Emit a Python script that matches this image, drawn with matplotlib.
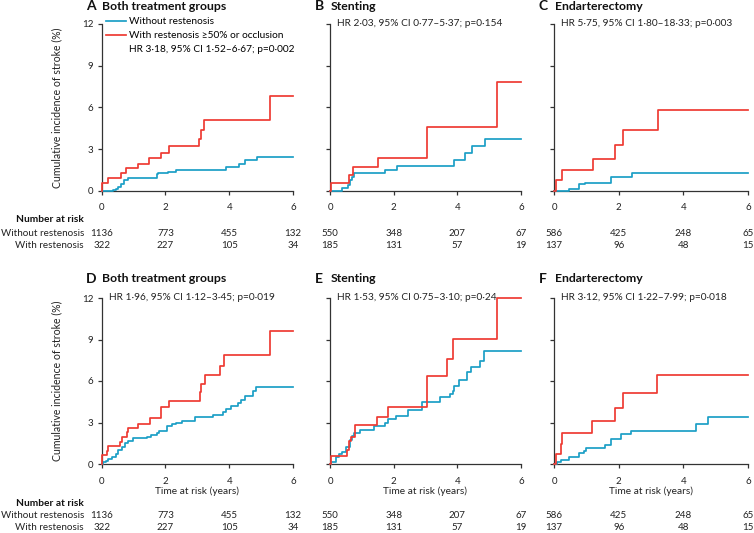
import matplotlib
matplotlib.use('Agg')
import matplotlib.pyplot as plt
from matplotlib.lines import Line2D
from matplotlib.transforms import blended_transform_factory

plt.rcParams['font.family'] = ['Lato', 'DejaVu Sans']
plt.rcParams['font.size'] = 7

# ---------------- data ----------------
x_ticks = [0, 2, 4, 6]
y_ticks = [0, 3, 6, 9, 12]

A_blue_t = [0, 0.36, 0.44, 0.52, 0.6, 0.71, 0.83, 1.72, 1.77, 2.08, 2.34, 3.9, 4.32, 4.48, 4.88, 6]
A_blue_y = [0, 0.1, 0.17, 0.29, 0.53, 0.82, 0.96, 1.2, 1.3, 1.37, 1.49, 1.73, 1.97, 2.25, 2.45, 2.45]
A_red_t = [0, 0.02, 0.21, 0.59, 0.76, 1.125, 1.49, 1.85, 2.10, 3.05, 3.10, 3.21, 5.28, 6]
A_red_y = [0, 0.58, 0.96, 1.3, 1.68, 1.97, 2.35, 2.73, 3.21, 3.77, 4.41, 5.08, 6.83, 6.83]

B_blue_t = [0, 0.37, 0.58, 0.63, 0.68, 0.76, 1.73, 2.09, 3.9, 4.24, 4.45, 4.87, 6]
B_blue_y = [0, 0.2, 0.4, 0.77, 1.0, 1.3, 1.49, 1.8, 2.2, 2.73, 3.21, 3.77, 3.77]
B_red_t = [0, 0.03, 0.6, 0.73, 1.5, 3.06, 5.25, 6]
B_red_y = [0, 0.6, 1.13, 1.73, 2.37, 4.6, 7.8, 7.8]

C_blue_t = [0, 0.46, 0.77, 0.95, 1.77, 2.4, 6]
C_blue_y = [0, 0.17, 0.48, 0.6, 1.03, 1.32, 1.32]
C_red_t = [0, 0.05, 0.26, 1.2, 1.88, 2.12, 3.22, 6]
C_red_y = [0, 0.79, 1.51, 2.33, 3.33, 4.39, 5.8, 5.8]

D_blue_t = [0, 0.05, 0.125, 0.21, 0.31, 0.44, 0.5, 0.625, 0.73, 0.83, 0.99, 1.41, 1.56, 1.72, 1.79,
            2.06, 2.19, 2.34, 2.52, 2.92, 3.49, 3.8, 3.89, 4.06, 4.27, 4.375, 4.48, 4.74, 4.84, 6]
D_blue_y = [0, 0.12, 0.24, 0.36, 0.53, 0.72, 1.0, 1.2, 1.5, 1.64, 1.88, 1.98, 2.1, 2.22, 2.41,
            2.78, 2.9, 3.0, 3.09, 3.38, 3.55, 3.74, 3.99, 4.18, 4.4, 4.64, 4.88, 5.3, 5.6, 5.6]
D_red_t = [0, 0.02, 0.16, 0.21, 0.57, 0.65, 0.8, 0.83, 1.15, 1.51, 1.85, 2.1, 3.07, 3.13, 3.23, 3.7, 3.85, 5.28, 6]
D_red_y = [0, 0.68, 0.97, 1.28, 1.57, 1.93, 2.3, 2.58, 2.9, 3.33, 4.1, 4.59, 5.19, 5.8, 6.4, 7.08, 7.85, 9.6, 9.6]

E_blue_t = [0, 0.04, 0.18, 0.28, 0.39, 0.49, 0.63, 0.7, 0.76, 0.95, 1.39, 1.72, 1.83, 2.07, 2.44,
            2.88, 3.47, 3.78, 3.85, 3.91, 4.04, 4.31, 4.43, 4.72, 4.85, 6]
E_blue_y = [0, 0.12, 0.48, 0.72, 0.9, 1.2, 1.76, 2.05, 2.22, 2.46, 2.77, 2.94, 3.25, 3.5, 3.9,
            4.5, 4.82, 5.06, 5.3, 5.66, 6.07, 6.63, 7.04, 7.47, 8.14, 8.14]
E_red_t = [0, 0.02, 0.53, 0.6, 0.65, 0.79, 1.49, 1.83, 3.05, 3.68, 3.85, 5.24, 6]
E_red_y = [0, 0.6, 1.0, 1.69, 1.93, 2.82, 3.37, 4.14, 6.39, 7.59, 9.04, 12.0, 12.0]

F_blue_t = [0, 0.1, 0.21, 0.46, 0.77, 0.93, 1.0, 1.58, 1.75, 2.06, 2.37, 4.38, 4.77, 6]
F_blue_y = [0, 0.12, 0.31, 0.53, 0.77, 0.96, 1.16, 1.4, 1.8, 2.17, 2.41, 2.89, 3.37, 3.37]
F_red_t = [0, 0.05, 0.21, 0.26, 1.19, 1.88, 2.12, 3.19, 6]
F_red_y = [0, 0.72, 1.45, 2.22, 3.08, 4.02, 5.1, 6.46, 6.46]

risk_without_both = [1136, 773, 455, 132]
risk_with_both = [322, 227, 105, 34]
risk_without_stent = [550, 348, 207, 67]
risk_with_stent = [185, 131, 57, 19]
risk_without_endart = [586, 425, 248, 65]
risk_with_endart = [137, 96, 48, 15]

letters = ['A', 'B', 'C', 'D', 'E', 'F']
titles = ['Both treatment groups', 'Stenting', 'Endarterectomy',
          'Both treatment groups', 'Stenting', 'Endarterectomy']
hr_texts = ['HR 3·18, 95% CI 1·52–6·67; p=0·002',
            'HR 2·03, 95% CI 0·77–5·37; p=0·154',
            'HR 5·75, 95% CI 1·80–18·33; p=0·003',
            'HR 1·96, 95% CI 1·12–3·45; p=0·019',
            'HR 1·53, 95% CI 0·75–3·10; p=0·24',
            'HR 3·12, 95% CI 1·22–7·99; p=0·018']
label_without = 'Without restenosis'
label_with = 'With restenosis ≥50% or occlusion'
row_without = 'Without restenosis'
row_with = 'With restenosis'
ylabel = 'Cumulative incidence of stroke (%)'
xlabel = 'Time at risk (years)'

# ---------------- layout ----------------
W, H = 754, 533
BLUE = '#1b9fc6'
RED = '#ee3a32'
AX_COL = '#333333'
TXT = '#222222'
FS_TXT = 7.3
FS_ROW = 7.1
FS_NUM = 7
FS_TITLE = 8.8

fig = plt.figure(figsize=(W / 100, H / 100), dpi=100)

col_x = [(101.7, 293), (330, 521), (554, 748)]
row_y = [(24, 191), (298, 464)]

series = [
    (A_blue_t, A_blue_y, A_red_t, A_red_y, risk_without_both, risk_with_both),
    (B_blue_t, B_blue_y, B_red_t, B_red_y, risk_without_stent, risk_with_stent),
    (C_blue_t, C_blue_y, C_red_t, C_red_y, risk_without_endart, risk_with_endart),
    (D_blue_t, D_blue_y, D_red_t, D_red_y, risk_without_both, risk_with_both),
    (E_blue_t, E_blue_y, E_red_t, E_red_y, risk_without_stent, risk_with_stent),
    (F_blue_t, F_blue_y, F_red_t, F_red_y, risk_without_endart, risk_with_endart),
]

title_y = [6.5, 279]
xlabel_y = [None, 491]
nar_y = [220, 503]
row1_y = [234, 516]
row2_y = [246, 528]

def fy(py):
    return 1 - py / H

def fx(px):
    return px / W

for i in range(6):
    r, c = divmod(i, 3)
    x0, x1 = col_x[c]
    y0, y1 = row_y[r]
    ax = fig.add_axes([fx(x0), fy(y1), (x1 - x0) / W, (y1 - y0) / H])
    bt, by, rt, ry, rw, rr = series[i]
    ax.step(bt, by, where='post', color=BLUE, lw=1.25, clip_on=False, zorder=3)
    ax.step(rt, ry, where='post', color=RED, lw=1.25, clip_on=False, zorder=4)
    ax.set_xlim(0, 6)
    ax.set_ylim(0, 12)
    ax.set_xticks(x_ticks)
    ax.set_yticks(y_ticks)
    for s in ['top', 'right']:
        ax.spines[s].set_visible(False)
    for s in ['left', 'bottom']:
        ax.spines[s].set_color(AX_COL)
        ax.spines[s].set_linewidth(0.9)
    ax.tick_params(direction='out', length=3, width=0.9, color=AX_COL,
                   labelsize=FS_NUM, labelcolor=TXT)
    ax.tick_params(axis='x', pad=6)
    ax.tick_params(axis='y', pad=3)
    if c != 0:
        ax.set_yticklabels([])
    else:
        ax.set_ylabel(ylabel, fontsize=FS_TXT + 0.3, color=TXT)
        ax.yaxis.set_label_coords(-0.205, 0.5)

    # panel title
    fig.text(fx(x0 - 15.5), fy(title_y[r]), letters[i], fontsize=10, fontweight='bold',
             ha='left', va='center', color='#111111')
    fig.text(fx(x0 + 0.5), fy(title_y[r]), titles[i], fontsize=FS_TITLE,
             fontweight='bold', ha='left', va='center', color='#111111')

    # legend / HR text
    if i == 0:
        handles = [Line2D([], [], color=BLUE, lw=1.25),
                   Line2D([], [], color=RED, lw=1.25),
                   Line2D([], [], color='none', lw=0)]
        ax.legend(handles, [label_without, label_with, hr_texts[i]],
                  loc='upper left', bbox_to_anchor=(0.02, 1.04), frameon=False,
                  fontsize=FS_TXT, handlelength=2.0, handletextpad=0.3,
                  labelspacing=0.48, borderpad=0, borderaxespad=0)
    else:
        ax.text(0.037, 1.0, hr_texts[i], transform=ax.transAxes, fontsize=FS_TXT,
                ha='left', va='center', color=TXT)

    # number at risk
    tr = blended_transform_factory(ax.transData, fig.transFigure)
    for xv, n1, n2 in zip(x_ticks, rw, rr):
        ax.text(xv, fy(row1_y[r]), str(n1), transform=tr, ha='center', va='center',
                fontsize=FS_NUM, color=TXT)
        ax.text(xv, fy(row2_y[r]), str(n2), transform=tr, ha='center', va='center',
                fontsize=FS_NUM, color=TXT)
    if xlabel_y[r] is not None:
        ax.text(3, fy(xlabel_y[r]), xlabel, transform=tr, ha='center', va='center',
                fontsize=FS_TXT, color=TXT)

for r in range(2):
    fig.text(fx(84), fy(nar_y[r]), 'Number at risk', fontsize=FS_TXT, fontweight='bold',
             ha='right', va='center', color='#111111')
    fig.text(fx(84), fy(row1_y[r]), row_without, fontsize=FS_ROW, ha='right', va='center',
             color=TXT)
    fig.text(fx(84), fy(row2_y[r]), row_with, fontsize=FS_ROW, ha='right', va='center',
             color=TXT)

fig.savefig('out.png', dpi=100)
